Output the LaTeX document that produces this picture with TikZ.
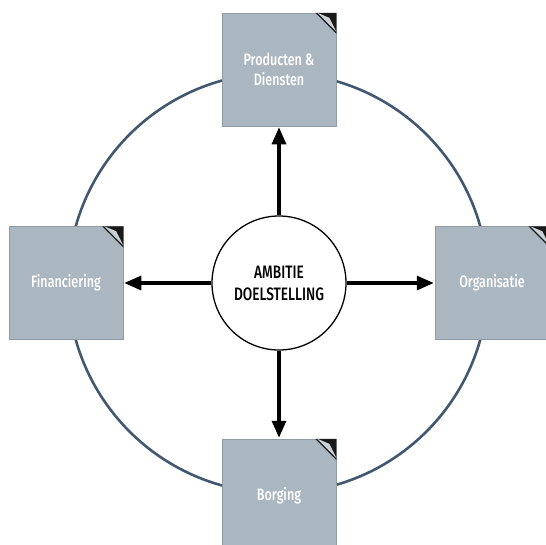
\documentclass[tikz,border=0pt]{standalone}
\usepackage{fontspec}
\setmainfont[FakeStretch=0.78]{Fira Sans}
\newfontfamily\labfont[FakeStretch=0.76]{Fira Sans Medium}
\usetikzlibrary{arrows.meta,calc}
\definecolor{boxgray}{HTML}{AAB6C0}
\definecolor{ringcol}{HTML}{425870}
\definecolor{foldlight}{HTML}{C9D0D6}
\tikzset{
  area/.style={draw=boxgray!85!black, line width=0.5pt, fill=boxgray, minimum width=114pt, minimum height=113pt, inner sep=0pt, text=white, font=\labfont\fontsize{16.5}{20}\selectfont, align=center},
  core/.style={circle, draw=black, line width=1.3pt, fill=white, minimum size=134pt, inner sep=0pt, font=\labfont\fontsize{18}{22}\selectfont, align=center},
  conn/.style={line width=3.2pt, -{Triangle[length=17pt,width=14pt]}, shorten >=1pt},
  ring/.style={draw=ringcol, line width=2.6pt}
}
\newcommand{\dogear}[1]{%
  \fill[black!90] (#1.north east) -- ++(-21pt,0) -- ++(21pt,-21pt) -- cycle;
  \fill[foldlight] ($(#1.north east)+(-19pt,0)$) -- ++(12pt,-5pt) -- ++(7pt,-14pt) -- ++(-3pt,3pt) -- cycle;
}
\begin{document}
\begin{tikzpicture}[x=1pt,y=-1pt]
\useasboundingbox[fill=white] (0,0) rectangle (546,544);
\draw[ring] (278,283) circle (210);
\node[area] (prod) at (279,69.5) {Producten \&\\Diensten};
\node[area] (fin) at (66,283) {Financiering};
\node[area] (org) at (492,283) {Organisatie};
\node[area] (borg) at (279,495.5) {Borging};
\dogear{prod}
\dogear{fin}
\dogear{org}
\dogear{borg}
\node[core] (amb) at (279,283) {AMBITIE\\DOELSTELLING};
\draw[conn] (amb.north) -- (prod.south);
\draw[conn] (amb.west) -- (fin.east);
\draw[conn] (amb.east) -- (org.west);
\draw[conn] (amb.south) -- (borg.north);
\end{tikzpicture}
\end{document}
